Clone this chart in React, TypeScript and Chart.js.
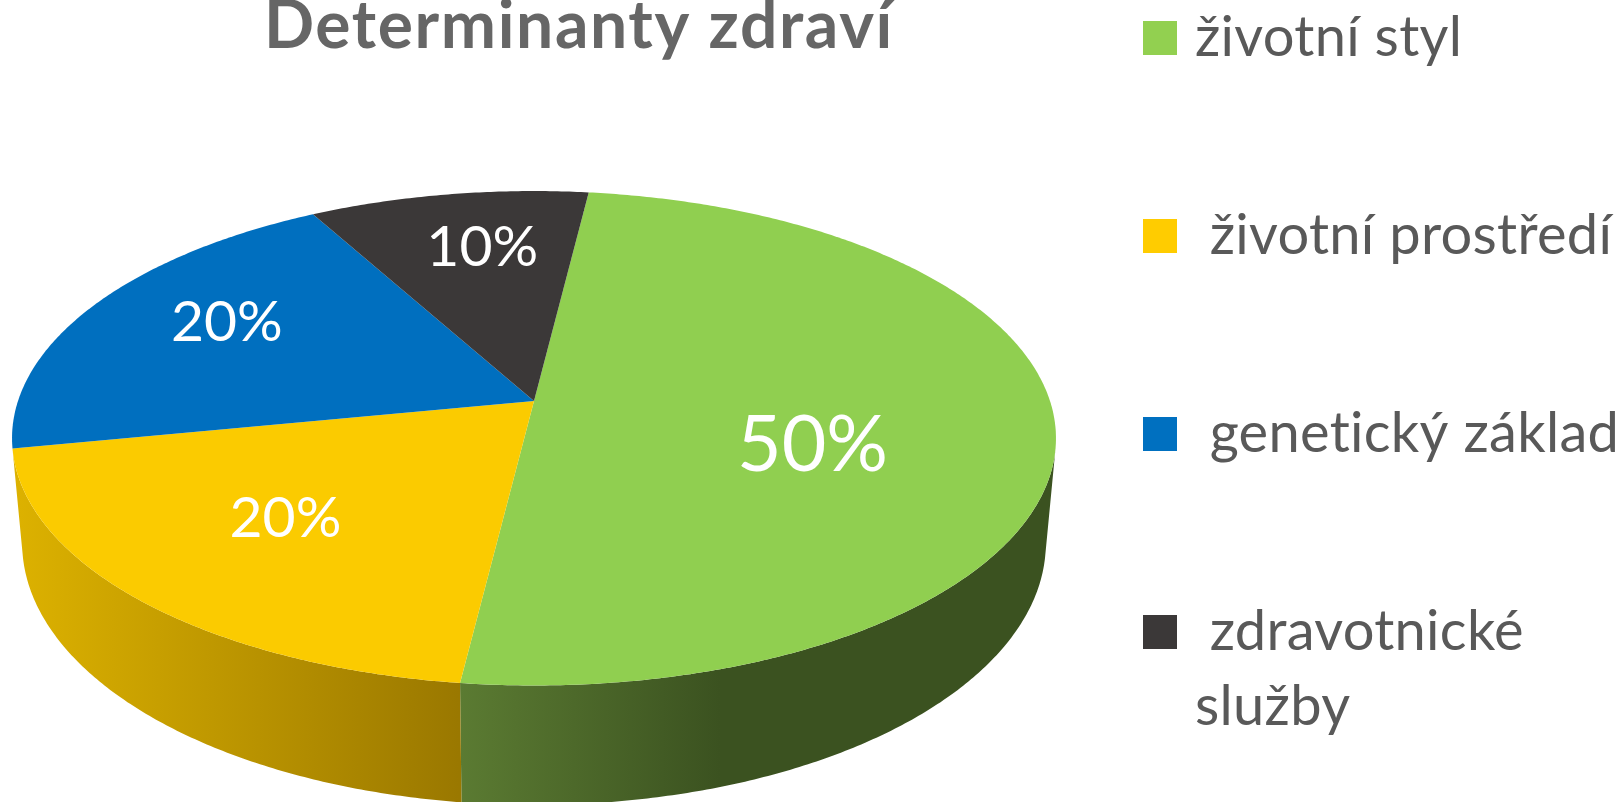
import React, { useEffect, useRef } from "react";
import { Chart, registerables } from "chart.js";

Chart.register(...registerables);

const titleText = "Determinanty zdraví";
const categories = ["životní styl", "životní prostředí", "genetický základ", "zdravotnické služby"];
const legendLines = [["životní styl", ""], [" životní prostředí", ""], [" genetický základ", ""], [" zdravotnické", "služby"]];
const shares = [50, 20, 20, 10];
const sliceColors = ["#90CF50", "#FBCB00", "#006FBF", "#3B3838"];
const legendColors = ["#92D050", "#FFCC00", "#0070C0", "#3B3838"];
const wallStops: string[][] = [["#5B7B32", "#3B5220"], ["#DDB200", "#9A7800"], ["#00427A", "#00427A"], ["#222", "#222"]];
const wallRanges = [[459, 720], [12, 459], [0, 1], [0, 1]];
const labelRadius = [0.556, 0.639, 0.713, 0.709];
const labelTurnDeg = [12.3, 1.6, 3.6, 2];
const labelFontSize = [77, 57, 57, 57];

const W = 1621;
const H = 802;
const TOP = { x: 534, y: 401, a: 516, b: 241.6, w: 0.1507 };
const BOTTOM = { x: 534, y: 503.5, a: 506, b: 256, w: 0.1507 };
const LEGEND_FONT = 56;

function project(p: typeof TOP, ang: number, r = 1) {
  const u = r * Math.cos(ang);
  const v = r * Math.sin(ang);
  const d = 1 - p.w * v;
  return { x: p.x + (p.a * u) / d, y: p.y + (p.b * v) / d };
}

function withSpacing(box: any, spacing: string) {
  if (box.__spaced) return;
  box.__spaced = true;
  const draw = box.draw;
  box.draw = function (...args: any[]) {
    const ctx: any = box.ctx;
    ctx.save();
    ctx.letterSpacing = spacing;
    draw.apply(box, args);
    ctx.restore();
  };
}

const pie3d = {
  id: "pie3d",
  afterLayout(chart: any) {
    const t = chart.titleBlock;
    t.left = 179; t.right = 979; t.top = -13; t.bottom = 70;
    withSpacing(t, "1.6px");
    const l = chart.legend;
    const lw = LEGEND_FONT - 36;
    l.left = 1143 + lw / 2 - 48;
    l.right = 1621;
    l.top = -38;
    l.bottom = 3000;
    withSpacing(l, "0.3px");
  },
  beforeDatasetsDraw(chart: any) {
    const ctx: CanvasRenderingContext2D = chart.ctx;
    const arcs = chart.getDatasetMeta(0).data;
    const STEP = Math.PI / 360;
    ctx.save();
    const sMin = 0.19;
    arcs.forEach((arc: any, i: number) => {
      const pts: number[] = [];
      for (let a = arc.startAngle; a < arc.endAngle + STEP; a += STEP) {
        const c = Math.min(a, arc.endAngle);
        if (Math.sin(c) >= sMin) pts.push(c);
      }
      if (pts.length < 2) return;
      const g = ctx.createLinearGradient(wallRanges[i][0], 0, wallRanges[i][1], 0);
      g.addColorStop(0, wallStops[i][0]);
      g.addColorStop(1, wallStops[i][1]);
      ctx.beginPath();
      pts.forEach((a, k) => {
        const q = project(TOP, a);
        if (k === 0) ctx.moveTo(q.x, q.y); else ctx.lineTo(q.x, q.y);
      });
      pts.slice().reverse().forEach((a) => {
        const q = project(BOTTOM, a);
        ctx.lineTo(q.x, q.y);
      });
      ctx.closePath();
      ctx.fillStyle = g;
      ctx.fill();
    });
    arcs.forEach((arc: any, i: number) => {
      ctx.beginPath();
      const c = project(TOP, 0, 0);
      ctx.moveTo(c.x, c.y);
      for (let a = arc.startAngle; a < arc.endAngle + STEP; a += STEP) {
        const q = project(TOP, Math.min(a, arc.endAngle));
        ctx.lineTo(q.x, q.y);
      }
      ctx.closePath();
      ctx.fillStyle = sliceColors[i];
      ctx.fill();
    });
    ctx.fillStyle = "#FFFFFF";
    ctx.textAlign = "center";
    ctx.textBaseline = "middle";
    arcs.forEach((arc: any, i: number) => {
      const mid = (arc.startAngle + arc.endAngle) / 2 + (labelTurnDeg[i] * Math.PI) / 180;
      const q = project(TOP, mid, labelRadius[i]);
      ctx.font = `${labelFontSize[i]}px Lato`;
      ctx.fillText(`${shares[i]}%`, q.x, q.y);
    });
    ctx.restore();
    return false;
  },
};

export default function App() {
  const ref = useRef<HTMLCanvasElement>(null);
  useEffect(() => {
    document.body.style.margin = "0";
    document.body.style.background = "#fff";
    const lw = LEGEND_FONT - 36;
    const bw = 70 - LEGEND_FONT;
    const chart = new Chart(ref.current as HTMLCanvasElement, {
      type: "pie",
      data: {
        labels: categories,
        datasets: [{ data: shares, backgroundColor: sliceColors, borderWidth: 0 }],
      },
      plugins: [pie3d],
      options: {
        animation: false,
        responsive: false,
        rotation: 7,
        layout: { padding: 0 },
        plugins: {
          tooltip: { enabled: false },
          title: {
            display: true,
            text: titleText,
            color: "#666666",
            align: "center",
            padding: 0,
            font: { family: "Lato", size: 66, weight: "bold", lineHeight: 1.2 },
          },
          legend: {
            display: true,
            position: "right",
            align: "start",
            labels: {
              boxWidth: bw,
              boxHeight: bw,
              padding: 48,
              color: "#595959",
              font: { family: "Lato", size: LEGEND_FONT, lineHeight: 75 / LEGEND_FONT },
              generateLabels: () =>
                legendLines.map((text, i) => ({
                  text,
                  fillStyle: legendColors[i],
                  strokeStyle: legendColors[i],
                  lineWidth: lw,
                  fontColor: "#595959",
                  hidden: false,
                  index: i,
                })) as any,
            },
          },
        },
      } as any,
    });
    return () => chart.destroy();
  }, []);
  return (
    <div style={{ position: "absolute", left: 0, top: 0, width: W, height: H, overflow: "hidden", background: "#fff" }}>
      <canvas ref={ref} width={W} height={H} style={{ display: "block", width: W, height: H }} />
    </div>
  );
}
